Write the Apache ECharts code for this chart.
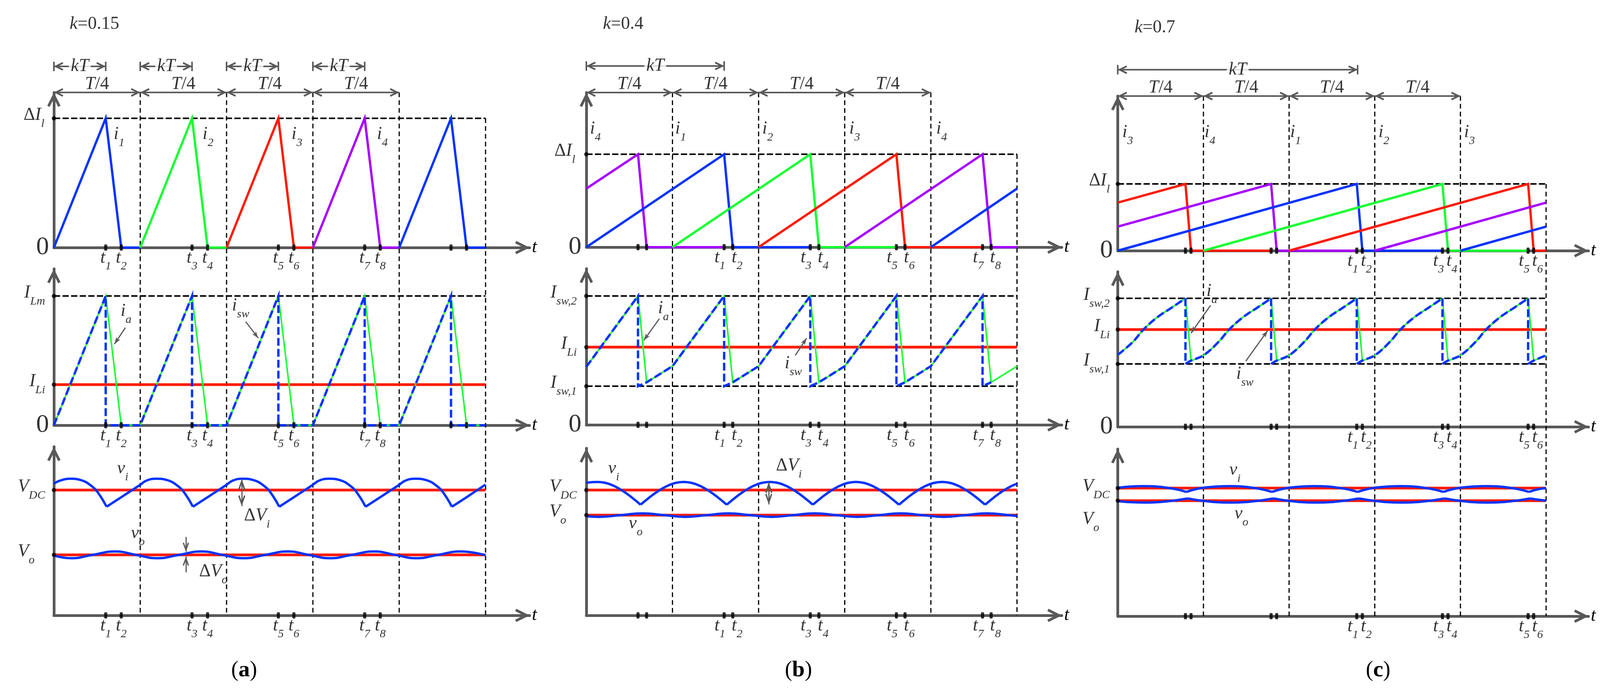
<!DOCTYPE html>
<html>
<head>
<meta charset="utf-8">
<title>Waveforms for k = 0.15, 0.4, 0.7</title>
<script src="https://cdn.jsdelivr.net/npm/echarts@6.0.0/dist/echarts.min.js"></script>
<style>
html,body{margin:0;padding:0;background:#fff;}
#chart{width:4168px;height:1785px;}
</style>
</head>
<body>
<div id="chart"></div>
<script>
/* ================= DATA  (time in units of T/4, values normalised) ================= */

/* ---------- panel (a) : k = 0.15 ---------- */
const A_I1  = [[0,0],[0.6,1],[0.78,0],[1,0]];
const A_I2  = [[1,0],[1.6,1],[1.78,0],[2,0]];
const A_I3  = [[2,0],[2.6,1],[2.78,0],[3,0]];
const A_I4  = [[3,0],[3.6,1],[3.78,0],[4,0]];
const A_I1B = [[4,0],[4.6,1],[4.78,0],[5,0]];
const A_IA  = [[0,0],[0.6,1],[0.78,0],[1,0],[1.6,1],[1.78,0],[2,0],[2.6,1],[2.78,0],[3,0],[3.6,1],[3.78,0],[4,0],[4.6,1],[4.78,0],[5,0]];
const A_ISW = [[0,0],[0.6,1],[0.6,0],[1,0],[1.6,1],[1.6,0],[2,0],[2.6,1],[2.6,0],[3,0],[3.6,1],[3.6,0],[4,0],[4.6,1],[4.6,0],[5,0]];
const A_ILM = 1, A_ILI = 0.314;
const A_VDC = 1;
const A_VO  = 0.483;
const A_VI = [
  [[0,1.05],[0.07,1.075],[0.19,1.09],[0.31,1.08],[0.44,1.03],[0.52,0.97],[0.61,0.867]],
  [[0.61,0.867],[0.80,0.952],[0.99,1.037],[1.07,1.075],[1.19,1.09],[1.31,1.08],[1.44,1.03],[1.52,0.97],[1.61,0.867]],
  [[1.61,0.867],[1.80,0.952],[1.99,1.037],[2.07,1.075],[2.19,1.09],[2.31,1.08],[2.44,1.03],[2.52,0.97],[2.61,0.867]],
  [[2.61,0.867],[2.80,0.952],[2.99,1.037],[3.07,1.075],[3.19,1.09],[3.31,1.08],[3.44,1.03],[3.52,0.97],[3.61,0.867]],
  [[3.61,0.867],[3.80,0.952],[3.99,1.037],[4.07,1.075],[4.19,1.09],[4.31,1.08],[4.44,1.03],[4.52,0.97],[4.61,0.867]],
  [[4.61,0.867],[4.80,0.952],[5.0,1.044]]
];
const A_VOW = [[0,0.478],[0.2,0.456],[0.45,0.483],[0.71,0.51],[0.95,0.483],[1.2,0.456],[1.45,0.483],[1.71,0.51],[1.95,0.483],[2.2,0.456],[2.45,0.483],[2.71,0.51],[2.95,0.483],[3.2,0.456],[3.45,0.483],[3.71,0.51],[3.95,0.483],[4.2,0.456],[4.45,0.483],[4.71,0.51],[5,0.48]];
const A_TICKS   = [0.6,0.78,1.6,1.78,2.6,2.78,3.6,3.78,4.6,4.78];
const A_TICKS_V = [0.6,0.78,1.6,1.78,2.6,2.78,3.6,3.78];
const A_TLAB = [[0.6,'1'],[0.78,'2'],[1.6,'3'],[1.78,'4'],[2.6,'5'],[2.78,'6'],[3.6,'7'],[3.78,'8']];

/* ---------- panel (b) : k = 0.4 ---------- */
const B_I4  = [[0,0.63],[0.6,1],[0.7,0],[1.6,0]];
const B_I1  = [[0,0],[1.6,1],[1.7,0],[2.6,0]];
const B_I2  = [[1,0],[2.6,1],[2.7,0],[3.6,0]];
const B_I3  = [[2,0],[3.6,1],[3.7,0],[4.6,0]];
const B_I4B = [[3,0],[4.6,1],[4.7,0],[5,0]];
const B_I1B = [[4,0],[5,0.63]];
const B_IA  = [[0,0.45],[0.6,1],[0.7,0.33],[1,0.455],[1.6,1],[1.7,0.33],[2,0.455],[2.6,1],[2.7,0.33],[3,0.455],[3.6,1],[3.7,0.33],[4,0.455],[4.6,1],[4.7,0.33],[5,0.455]];
const B_ISW = [[0,0.45],[0.6,1],[0.6,0.3],[0.7,0.33],[1,0.455],[1.6,1],[1.6,0.3],[1.7,0.33],[2,0.455],[2.6,1],[2.6,0.3],[2.7,0.33],[3,0.455],[3.6,1],[3.6,0.3],[3.7,0.33],[4,0.455],[4.6,1],[4.6,0.3],[4.7,0.33]];
const B_ISW2 = 1, B_ILI = 0.603, B_ISW1 = 0.30;
const B_VDC = 1;
const B_VO  = 0.80;
const B_VI = [
  [[0,1.058],[0.13,1.065],[0.23,1.056],[0.33,1.03],[0.43,0.99],[0.53,0.94],[0.63,0.883]],
  [[0.63,0.883],[0.73,0.94],[0.83,0.99],[0.93,1.03],[1.03,1.056],[1.13,1.065],[1.23,1.056],[1.33,1.03],[1.43,0.99],[1.53,0.94],[1.63,0.883]],
  [[1.63,0.883],[1.73,0.94],[1.83,0.99],[1.93,1.03],[2.03,1.056],[2.13,1.065],[2.23,1.056],[2.33,1.03],[2.43,0.99],[2.53,0.94],[2.63,0.883]],
  [[2.63,0.883],[2.73,0.94],[2.83,0.99],[2.93,1.03],[3.03,1.056],[3.13,1.065],[3.23,1.056],[3.33,1.03],[3.43,0.99],[3.53,0.94],[3.63,0.883]],
  [[3.63,0.883],[3.73,0.94],[3.83,0.99],[3.93,1.03],[4.03,1.056],[4.13,1.065],[4.23,1.056],[4.33,1.03],[4.43,0.99],[4.53,0.94],[4.63,0.883]],
  [[4.63,0.883],[4.73,0.94],[4.83,0.99],[4.93,1.03],[5,1.05]]
];
const B_VOW = [[0,0.791],[0.15,0.786],[0.4,0.80],[0.65,0.814],[0.9,0.80],[1.15,0.786],[1.4,0.80],[1.65,0.814],[1.9,0.80],[2.15,0.786],[2.4,0.80],[2.65,0.814],[2.9,0.80],[3.15,0.786],[3.4,0.80],[3.65,0.814],[3.9,0.80],[4.15,0.786],[4.4,0.80],[4.65,0.814],[4.9,0.80],[5,0.793]];
const B_TICKS = [0.6,0.7,1.6,1.7,2.6,2.7,3.6,3.7,4.6,4.7];
const B_TLAB = [[1.6,'1'],[1.7,'2'],[2.6,'3'],[2.7,'4'],[3.6,'5'],[3.7,'6'],[4.6,'7'],[4.7,'8']];

/* ---------- panel (c) : k = 0.7 ---------- */
const C_I3  = [[0,0.72],[0.79,1],[0.855,0],[1.79,0]];
const C_I4  = [[0,0.36],[1.79,1],[1.855,0],[2.79,0]];
const C_I1  = [[0,0],[2.79,1],[2.855,0],[3.79,0]];
const C_I2  = [[1,0],[3.79,1],[3.855,0],[4.79,0]];
const C_I3B = [[2,0],[4.79,1],[4.855,0],[5,0]];
const C_I4B = [[3,0],[5,0.72]];
const C_I1B = [[4,0],[5,0.36]];
const C_IA_CURVES = [
  [[0,0.56],[0.175,0.66],[0.30,0.757],[0.46,0.852],[0.63,0.928],[0.79,1.0]],
  [[0.855,0.515],[1.0,0.556],[1.175,0.66],[1.30,0.757],[1.46,0.852],[1.63,0.928],[1.79,1.0]],
  [[1.855,0.515],[2.0,0.556],[2.175,0.66],[2.30,0.757],[2.46,0.852],[2.63,0.928],[2.79,1.0]],
  [[2.855,0.515],[3.0,0.556],[3.175,0.66],[3.30,0.757],[3.46,0.852],[3.63,0.928],[3.79,1.0]],
  [[3.855,0.515],[4.0,0.556],[4.175,0.66],[4.30,0.757],[4.46,0.852],[4.63,0.928],[4.79,1.0]],
  [[4.855,0.515],[5.0,0.556]]
];
const C_IA_FALLS = [[[0.79,1],[0.855,0.515]],[[1.79,1],[1.855,0.515]],[[2.79,1],[2.855,0.515]],[[3.79,1],[3.855,0.515]],[[4.79,1],[4.855,0.515]]];
const C_ISW_CURVES = [
  [[0,0.56],[0.175,0.66],[0.30,0.757],[0.46,0.852],[0.63,0.928],[0.79,1.0]],
  [[0.79,0.489],[0.855,0.515],[1.0,0.556],[1.175,0.66],[1.30,0.757],[1.46,0.852],[1.63,0.928],[1.79,1.0]],
  [[1.79,0.489],[1.855,0.515],[2.0,0.556],[2.175,0.66],[2.30,0.757],[2.46,0.852],[2.63,0.928],[2.79,1.0]],
  [[2.79,0.489],[2.855,0.515],[3.0,0.556],[3.175,0.66],[3.30,0.757],[3.46,0.852],[3.63,0.928],[3.79,1.0]],
  [[3.79,0.489],[3.855,0.515],[4.0,0.556],[4.175,0.66],[4.30,0.757],[4.46,0.852],[4.63,0.928],[4.79,1.0]],
  [[4.79,0.489],[4.855,0.515],[5.0,0.556]]
];
const C_ISW_DROPS = [[[0.79,1],[0.79,0.489]],[[1.79,1],[1.79,0.489]],[[2.79,1],[2.79,0.489]],[[3.79,1],[3.79,0.489]],[[4.79,1],[4.79,0.489]]];
const C_ISW2 = 1, C_ILI = 0.757, C_ISW1 = 0.489;
const C_VDC = 1;
const C_VO  = 0.902;
const C_VI = [
  [[0,1.002],[0.15,1.012],[0.3,1.015],[0.45,1.012],[0.6,1.0],[0.7,0.988],[0.8,0.970]],
  [[0.8,0.97],[0.9,0.99],[1.0,1.003],[1.15,1.012],[1.3,1.015],[1.45,1.012],[1.6,1.0],[1.7,0.988],[1.8,0.97]],
  [[1.8,0.97],[1.9,0.99],[2.0,1.003],[2.15,1.012],[2.3,1.015],[2.45,1.012],[2.6,1.0],[2.7,0.988],[2.8,0.97]],
  [[2.8,0.97],[2.9,0.99],[3.0,1.003],[3.15,1.012],[3.3,1.015],[3.45,1.012],[3.6,1.0],[3.7,0.988],[3.8,0.97]],
  [[3.8,0.97],[3.9,0.99],[4.0,1.003],[4.15,1.012],[4.3,1.015],[4.45,1.012],[4.6,1.0],[4.7,0.988],[4.8,0.97]],
  [[4.8,0.97],[4.9,0.99],[5.0,1.0]]
];
const C_VOW = [
  [[0,0.898],[0.15,0.89],[0.32,0.887],[0.5,0.892],[0.68,0.905],[0.815,0.919]],
  [[0.815,0.919],[0.945,0.905],[1.115,0.892],[1.315,0.887],[1.515,0.892],[1.685,0.905],[1.815,0.919]],
  [[1.815,0.919],[1.945,0.905],[2.115,0.892],[2.315,0.887],[2.515,0.892],[2.685,0.905],[2.815,0.919]],
  [[2.815,0.919],[2.945,0.905],[3.115,0.892],[3.315,0.887],[3.515,0.892],[3.685,0.905],[3.815,0.919]],
  [[3.815,0.919],[3.945,0.905],[4.115,0.892],[4.315,0.887],[4.515,0.892],[4.685,0.905],[4.815,0.919]],
  [[4.815,0.919],[4.9,0.91],[5.0,0.902]]
];
const C_TICKS = [0.79,0.855,1.79,1.855,2.79,2.855,3.79,3.855,4.79,4.855];
const C_TLAB = [[2.79,'1'],[2.855,'2'],[3.79,'3'],[3.855,'4'],[4.79,'5'],[4.855,'6']];

/* ================= STYLE & LAYOUT ================= */
const FONT = 'Liberation Serif';
const COL = {gray:'#595959', blue:'#0033ff', green:'#19ff33', red:'#ff1a00', purple:'#a600ff', black:'#000000'};
const CHEV = 'path://M10,-21.79M10,0L20,20L16.42,21.79L10,8.94L3.58,21.79L0,20Z';
const BARCHEV = 'path://M10,-21.79M-1,-1.8L21,-1.8L21,1.8L-1,1.8ZM10,0L20,20L16.42,21.79L10,8.94L3.58,21.79L0,20Z';
const POINTER = 'path://M5,-16M5,0L10,16L5,12L0,16Z';

const tx = (extra) => Object.assign({fontFamily: FONT, color: '#000'}, extra);
const RL = {
  m: tx({fontStyle:'italic', fontSize:46, lineHeight:46}),
  n: tx({fontSize:46, lineHeight:46}),
  s: tx({fontStyle:'italic', fontSize:30, lineHeight:30, padding:[44,0,0,0]}),
  z: tx({fontSize:66, lineHeight:66})
};

// panel layout: x0 / px per T/4 / x extent ; rows: [axis y px, px per unit, y max]
const LAYOUT = [
  {x0:138,    unit:221,   xmax:5.51,  rows:[[634,331,1.2],[1089,331,1.21],[1576,321,1.346]], cap:[625,1717,'a']},
  {x0:1501,   unit:220.5, xmax:5.52,  rows:[[633,238,1.664],[1088,330,1.212],[1576,321,1.333]], cap:[2044,1717,'b']},
  {x0:2861.5, unit:219.3, xmax:5.495, rows:[[642,171,2.316],[1093,329,1.207],[1578,328,1.305]], cap:[3528,1717,'c']}
];

const option = {
  animation:false, backgroundColor:'#ffffff', textStyle:{fontFamily:FONT},
  grid:[], xAxis:[], yAxis:[], series:[], graphic:[]
};

function addPlot(P, r){
  const gi = option.grid.length;
  const [axisY, upx, ymax] = P.rows[r];
  option.grid.push({left:P.x0, top:axisY - ymax*upx, width:P.xmax*P.unit, height:ymax*upx, outerBoundsMode:'none'});
  option.xAxis.push({
    gridIndex:gi, type:'value', min:0, max:P.xmax, splitLine:{show:false}, axisTick:{show:false}, axisLabel:{show:false},
    axisLine:{show:true, onZero:false, symbol:['none',CHEV], symbolSize:[34,74], lineStyle:{color:COL.gray, width:7}},
    name:'t', nameLocation:'end', nameGap:6,
    nameTextStyle:{fontFamily:FONT, fontStyle:'italic', fontSize:46, color:'#000'}
  });
  option.yAxis.push({
    gridIndex:gi, type:'value', min:0, max:ymax, splitLine:{show:false}, axisTick:{show:false}, axisLabel:{show:false},
    axisLine:{show:true, onZero:false, symbol:['none',CHEV], symbolSize:[34,74], lineStyle:{color:COL.gray, width:7}}
  });
  return gi;
}

function L(gi, data, color, width, o){
  o = o || {};
  option.series.push({
    type:'line', xAxisIndex:gi, yAxisIndex:gi, data:data, symbol:'none', showSymbol:false, silent:true,
    smooth:o.smooth || false, clip:false, z:o.z || 2,
    lineStyle:{color:color, width:width, type:o.dash || 'solid', cap:'butt', join:'miter'}
  });
}
function TK(gi, ticks){
  option.series.push({type:'scatter', xAxisIndex:gi, yAxisIndex:gi, silent:true, clip:false, z:5,
    symbol:'roundRect', symbolSize:[8,16], itemStyle:{color:'#000'}, data:ticks.map(t=>[t,0])});
}
function DOT(gi, levels){
  option.series.push({type:'scatter', xAxisIndex:gi, yAxisIndex:gi, silent:true, clip:false, z:5,
    symbol:'circle', symbolSize:11, itemStyle:{color:'#000'}, data:levels.map(v=>[0,v])});
}
function HA(gi, xa, xb, y, sym, size, width){
  option.series.push({type:'line', xAxisIndex:gi, yAxisIndex:gi, silent:true, clip:false, z:4,
    showSymbol:true, symbol:'none', itemStyle:{color:COL.gray, borderWidth:0},
    lineStyle:{color:COL.gray, width:width},
    data:[{value:[xa,y], symbol:sym, symbolSize:size, symbolRotate:90},
          {value:[xb,y], symbol:sym, symbolSize:size, symbolRotate:-90}]});
}
function LAB(gi, items){
  option.series.push({type:'scatter', xAxisIndex:gi, yAxisIndex:gi, silent:true, clip:false, z:6,
    symbolSize:1, itemStyle:{color:'rgba(0,0,0,0)'},
    label:{show:true, formatter:(p)=>p.data.t, position:'right', distance:0, rich:RL, color:'#000'},
    data:items.map(it => {
      const d = {value:[it[0], it[1]], t:it[2]};
      if (it[3]) d.label = it[3];
      return d;
    })});
}
// level labels left of the y axis: [value, text, gap to axis, vertical shift]
function YL(gi, list){
  LAB(gi, list.map(d => [0, d[0], d[1], {position:'left', distance:d[2], offset:[0, d[3]]}]));
}
// time labels under the x axis: [t, subscript]; spread separates close pairs
function TL(gi, list, spread){
  LAB(gi, list.map((d, i) => [d[0], 0, '{m|t}{s|' + d[1] + '}',
    {position:'bottom', distance:3, offset:[spread ? (i % 2 === 0 ? -spread : spread) : 0, 0]}]));
}
function ARR(gi, lines){
  option.series.push({type:'line', xAxisIndex:gi, yAxisIndex:gi, data:[], silent:true,
    markLine:{silent:true, animation:false, symbol:['none', POINTER], symbolSize:[12,36],
      label:{show:false}, emphasis:{disabled:true},
      lineStyle:{color:COL.gray, width:3, type:'solid'},
      data:lines.map(l => [
        {coord:l[0], symbol:l[2] || 'none', symbolSize:l[3] || [12,36]},
        {coord:l[1], symbol:l[4] || POINTER, symbolSize:l[5] || [12,36]}
      ])}});
}
function header(P, gi, spans, kText, kPos, iLabels){
  const [axisY, upx, ymax] = P.rows[0];
  const ovMin = -(P.rows[2][0] - axisY) / upx;
  // vertical dashed guides through all three plots
  [1,2,3,4].forEach(n => L(gi, [[n, ymax],[n, ovMin]], '#000', 3, {dash:[12,8], z:1}));
  L(gi, [[5, 1],[5, ovMin]], '#000', 3, {dash:[12,8], z:1});
  const labels = [];
  [0,1,2,3].forEach(n => {
    HA(gi, n, n+1, ymax, CHEV, [22,48], 4);
    labels.push([n+0.5, spans.t4y, '{m|T}{n|/4}', {position:'inside'}]);
  });
  spans.kT.forEach(s => {
    HA(gi, s[0], s[1], spans.kTy, BARCHEV, [24,48], 4);
    labels.push([(s[0]+s[1])/2, spans.kTy, '{m|kT}', {position:'inside', backgroundColor:'#ffffff', padding:[0,5]}]);
  });
  labels.push([kPos[0], kPos[1], kText]);
  iLabels.forEach(l => labels.push(l));
  LAB(gi, labels);
}

const DI_LABEL = '{n|Δ}{m|I}{s|l}';

/* ================= PANEL (a) ================= */
(function(){
  const P = LAYOUT[0];
  const g0 = addPlot(P, 0);
  header(P, g0, {t4y:1.263, kTy:1.402, kT:[[0,0.6],[1,1.6],[2,2.6],[3,3.6]]}, '{m|k}{n|=0.15}', [0.18,1.728],
    [[0.69,0.877,'{m|i}{s|1}'],[1.72,0.877,'{m|i}{s|2}'],[2.75,0.877,'{m|i}{s|3}'],[3.74,0.877,'{m|i}{s|4}']]);
  L(g0, [[0,1],[5,1]], '#000', 4, {dash:[16,6], z:1});
  L(g0, A_I1, COL.blue, 6); L(g0, A_I2, COL.green, 6); L(g0, A_I3, COL.red, 6);
  L(g0, A_I4, COL.purple, 6); L(g0, A_I1B, COL.blue, 6);
  TK(g0, A_TICKS); DOT(g0, [1]);
  YL(g0, [[0,'{z|0}',12,0],[1,DI_LABEL,24,-8]]);
  TL(g0, A_TLAB, 0);

  const g1 = addPlot(P, 1);
  L(g1, [[0,A_ILM],[5,A_ILM]], '#000', 4, {dash:[16,6], z:1});
  L(g1, [[0,A_ILI],[5,A_ILI]], COL.red, 7);
  L(g1, A_IA, COL.green, 4, {z:3});
  L(g1, A_ISW, COL.blue, 6, {dash:[20,8], z:3});
  TK(g1, A_TICKS); DOT(g1, [A_ILM, A_ILI]);
  YL(g1, [[0,'{z|0}',12,0],[A_ILM,'{m|I}{s|Lm}',22,-8],[A_ILI,'{m|I}{s|Li}',22,-8]]);
  TL(g1, A_TLAB, 0);
  LAB(g1, [[0.77,0.882,'{m|i}{s|a}'],[2.06,0.924,'{m|i}{s|sw}']]);
  ARR(g1, [[[0.828,0.755],[0.701,0.628]], [[2.222,0.801],[2.367,0.674]]]);

  const g2 = addPlot(P, 2);
  L(g2, [[0,A_VDC],[5,A_VDC]], COL.red, 7);
  L(g2, [[0,A_VO],[5,A_VO]], COL.red, 7);
  A_VI.forEach(seg => L(g2, seg, COL.blue, 6, {smooth:0.45, z:3}));
  L(g2, A_VOW, COL.blue, 6, {smooth:0.5, z:3});
  TK(g2, A_TICKS_V); DOT(g2, [A_VDC, A_VO]);
  YL(g2, [[A_VDC,'{m|V}{s|DC}',22,-8],[A_VO,'{m|V}{s|o}',49,-8]]);
  TL(g2, A_TLAB, 0);
  LAB(g2, [[0.73,1.171,'{m|v}{s|i}'],[2.20,0.794,'{n|Δ}{m|V}{s|i}'],[0.89,0.654,'{m|v}{s|o}'],[1.68,0.349,'{n|Δ}{m|V}{s|o}']]);
  ARR(g2, [
    [[2.176,1.087],[2.176,0.872], CHEV,[18,56], CHEV,[18,56]],
    [[1.529,0.626],[1.529,0.508], 'none',null, CHEV,[16,48]],
    [[1.529,0.343],[1.529,0.470], 'none',null, CHEV,[16,48]]
  ]);
})();

/* ================= PANEL (b) ================= */
(function(){
  const P = LAYOUT[1];
  const g0 = addPlot(P, 0);
  header(P, g0, {t4y:1.752, kTy:1.95, kT:[[0,1.6]]}, '{m|k}{n|=0.4}', [0.19,2.40],
    [[0.04,1.273,'{m|i}{s|4}'],[1.03,1.273,'{m|i}{s|1}'],[2.04,1.273,'{m|i}{s|2}'],[3.05,1.273,'{m|i}{s|3}'],[4.06,1.273,'{m|i}{s|4}']]);
  L(g0, [[0,1],[5,1]], '#000', 4, {dash:[16,6], z:1});
  L(g0, B_I4, COL.purple, 6); L(g0, B_I1, COL.blue, 6); L(g0, B_I2, COL.green, 6);
  L(g0, B_I3, COL.red, 6); L(g0, B_I4B, COL.purple, 6); L(g0, B_I1B, COL.blue, 6);
  TK(g0, B_TICKS); DOT(g0, [1]);
  YL(g0, [[0,'{z|0}',12,0],[1,DI_LABEL,28,-8]]);
  TL(g0, B_TLAB, 11);

  const g1 = addPlot(P, 1);
  L(g1, [[0,B_ISW2],[5,B_ISW2]], '#000', 4, {dash:[16,6], z:1});
  L(g1, [[0,B_ISW1],[5,B_ISW1]], '#000', 4, {dash:[16,6], z:1});
  L(g1, [[0,B_ILI],[5,B_ILI]], COL.red, 7);
  L(g1, B_IA, COL.green, 4, {z:3});
  L(g1, B_ISW, COL.blue, 6, {dash:[20,8], z:3});
  TK(g1, B_TICKS); DOT(g1, [B_ISW2, B_ILI, B_ISW1]);
  YL(g1, [[0,'{z|0}',12,0],[B_ISW2,'{m|I}{s|sw,2}',24,-8],[B_ILI,'{m|I}{s|Li}',24,-8],[B_ISW1,'{m|I}{s|sw,1}',24,-8]]);
  TL(g1, B_TLAB, 11);
  LAB(g1, [[0.83,0.903,'{m|i}{s|a}'],[2.30,0.476,'{m|i}{s|sw}']]);
  ARR(g1, [[[0.848,0.824],[0.667,0.655]], [[2.426,0.539],[2.558,0.673]]]);

  const g2 = addPlot(P, 2);
  L(g2, [[0,B_VDC],[5,B_VDC]], COL.red, 7);
  L(g2, [[0,B_VO],[5,B_VO]], COL.red, 7);
  B_VI.forEach(seg => L(g2, seg, COL.blue, 6, {smooth:0.45, z:3}));
  L(g2, B_VOW, COL.blue, 6, {smooth:0.5, z:3});
  TK(g2, B_TICKS); DOT(g2, [B_VDC, B_VO]);
  YL(g2, [[B_VDC,'{m|V}{s|DC}',24,-8],[B_VO,'{m|V}{s|o}',51,-8]]);
  TL(g2, B_TLAB, 11);
  LAB(g2, [[0.25,1.171,'{m|v}{s|i}'],[2.20,1.193,'{n|Δ}{m|V}{s|i}'],[0.49,0.732,'{m|v}{s|o}']]);
  ARR(g2, [[[2.118,1.062],[2.118,0.885], CHEV,[18,56], CHEV,[18,56]]]);
})();

/* ================= PANEL (c) ================= */
(function(){
  const P = LAYOUT[2];
  const g0 = addPlot(P, 0);
  header(P, g0, {t4y:2.439, kTy:2.71, kT:[[0,2.8]]}, '{m|k}{n|=0.7}', [0.194,3.34],
    [[0.05,1.772,'{m|i}{s|3}'],[1.01,1.772,'{m|i}{s|4}'],[2.01,1.772,'{m|i}{s|1}'],[3.04,1.772,'{m|i}{s|2}'],[4.04,1.772,'{m|i}{s|3}']]);
  L(g0, [[0,1],[5,1]], '#000', 4, {dash:[16,6], z:1});
  L(g0, C_I3, COL.red, 6); L(g0, C_I4, COL.purple, 6); L(g0, C_I1, COL.blue, 6);
  L(g0, C_I2, COL.green, 6); L(g0, C_I3B, COL.red, 6); L(g0, C_I4B, COL.purple, 6); L(g0, C_I1B, COL.blue, 6);
  TK(g0, C_TICKS); DOT(g0, [1]);
  YL(g0, [[0,'{z|0}',12,0],[1,DI_LABEL,20,-8]]);
  TL(g0, C_TLAB, 10);

  const g1 = addPlot(P, 1);
  L(g1, [[0,C_ISW2],[5,C_ISW2]], '#000', 4, {dash:[16,6], z:1});
  L(g1, [[0,C_ISW1],[5,C_ISW1]], '#000', 4, {dash:[16,6], z:1});
  L(g1, [[0,C_ILI],[5,C_ILI]], COL.red, 7);
  C_IA_CURVES.forEach(seg => L(g1, seg, COL.green, 4, {smooth:0.4, z:3}));
  C_IA_FALLS.forEach(seg => L(g1, seg, COL.green, 4, {z:3}));
  C_ISW_CURVES.forEach(seg => L(g1, seg, COL.blue, 6, {smooth:0.4, dash:[20,8], z:3}));
  C_ISW_DROPS.forEach(seg => L(g1, seg, COL.blue, 6, {dash:[20,8], z:3}));
  TK(g1, C_TICKS); DOT(g1, [C_ISW2, C_ILI, C_ISW1]);
  YL(g1, [[0,'{z|0}',12,0],[C_ISW2,'{m|I}{s|sw,2}',20,-8],[C_ILI,'{m|I}{s|Li}',20,-8],[C_ISW1,'{m|I}{s|sw,1}',20,-8]]);
  TL(g1, C_TLAB, 10);
  LAB(g1, [[1.033,1.055,'{m|i}{s|a}'],[1.38,0.41,'{m|i}{s|sw}']]);
  ARR(g1, [[[1.083,0.945],[0.855,0.729]], [[1.494,0.511],[1.749,0.748]]]);

  const g2 = addPlot(P, 2);
  L(g2, [[0,C_VDC],[5,C_VDC]], COL.red, 7);
  L(g2, [[0,C_VO],[5,C_VO]], COL.red, 7);
  C_VI.forEach(seg => L(g2, seg, COL.blue, 6, {smooth:0.45, z:3}));
  C_VOW.forEach(seg => L(g2, seg, COL.blue, 6, {smooth:0.45, z:3}));
  TK(g2, C_TICKS); DOT(g2, [C_VDC, C_VO]);
  YL(g2, [[C_VDC,'{m|V}{s|DC}',20,-4],[C_VO,'{m|V}{s|o}',47,48]]);
  TL(g2, C_TLAB, 10);
  LAB(g2, [[1.30,1.14,'{m|v}{s|i}'],[1.36,0.799,'{m|v}{s|o}']]);
})();

/* captions */
LAYOUT.forEach(P => {
  option.graphic.push({type:'text', x:P.cap[0], y:P.cap[1], silent:true,
    style:{text:'({b|' + P.cap[2] + '})', font:'56px "Liberation Serif"', fill:'#000', align:'center', verticalAlign:'middle',
      rich:{b:{fontFamily:FONT, fontWeight:'bold', fontSize:58, fill:'#000'}}}});
});

const chart = echarts.init(document.getElementById('chart'), null, {renderer:'canvas'});
chart.setOption(option);
</script>
</body>
</html>
